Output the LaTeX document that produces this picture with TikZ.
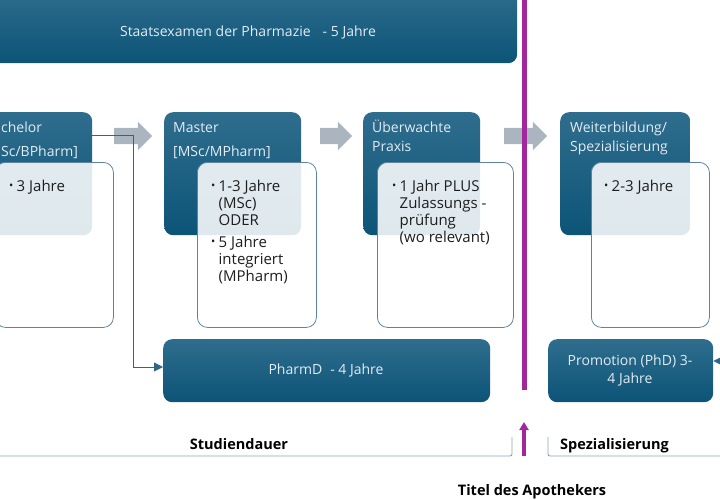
\documentclass[tikz,border=0pt]{standalone}
\usepackage{fontspec}
\usepackage{graphicx}
\setmainfont{Open Sans}
\usetikzlibrary{shapes.arrows,arrows.meta,calc}
\definecolor{boxtop}{HTML}{2F6D8D}
\definecolor{boxbot}{HTML}{0C5477}
\definecolor{boxtext}{HTML}{E2ECF3}
\definecolor{wborder}{HTML}{5C84A2}
\definecolor{agrey}{HTML}{ABB5C0}
\definecolor{purp}{HTML}{A2279C}
\definecolor{connc}{HTML}{2F6688}
\definecolor{brk}{HTML}{86A5BE}
\definecolor{txt}{HTML}{1E1E1E}
\tikzset{
  darkbox/.style={rounded corners=9pt, top color=boxtop, bottom color=boxbot, draw=none, anchor=north west, inner sep=0pt, minimum height=123pt},
  whitebox/.style={rounded corners=10pt, fill=white, fill opacity=0.87, draw=wborder, line width=0.8pt, anchor=north west, inner sep=0pt, minimum height=165pt},
  boxlbl/.style={text=boxtext, font=\fontsize{14}{16}\selectfont, inner sep=0pt, anchor=base west},
  barlbl/.style={text=boxtext, font=\fontsize{14}{18}\selectfont, inner sep=0pt, align=center},
  bullets/.style={text=txt, font=\fontsize{15}{17}\selectfont, inner sep=0pt, anchor=north west, align=left},
  garrow/.style={single arrow, fill=agrey, draw=none, minimum width=28pt, single arrow head extend=6pt, inner xsep=0pt, inner ysep=8pt},
  connline/.style={draw=connc, line width=0.8pt, -{Triangle[length=9pt,width=9pt]}},
  brkline/.style={draw=brk, line width=0.9pt, rounded corners=2pt},
  boldlbl/.style={text=black, font=\fontsize{14.5}{16}\selectfont\bfseries, inner sep=0pt},
}
\newcommand{\bul}{\makebox[7.5pt][l]{\raisebox{1.4pt}{\scalebox{0.75}{•}}}}
\newcommand{\ind}{\hspace*{7.5pt}}
\begin{document}
\begin{tikzpicture}[x=1pt,y=-1pt]
\useasboundingbox (0,0) rectangle (720,500);
\clip (0,0) rectangle (720,500);
% top bar
\node[darkbox, minimum width=537pt, minimum height=75pt] (top) at (-20,-12) {};
\node[barlbl] (toptxt) at (248,32) {Staatsexamen der Pharmazie\hspace{12pt}- 5 Jahre};
% grey arrows
\node[garrow, minimum height=38pt] (ar1) at (129,136) {};
\node[garrow, minimum height=32pt] (ar2) at (332,136) {};
\node[garrow, minimum height=43pt] (ar3) at (521.5,136) {};
% Bachelor
\node[darkbox, minimum width=137pt] (bach) at (-45,112) {};
\node[boxlbl] (bacht1) at (1,133) {chelor};
\node[boxlbl] (bacht2) at (1,157) {Sc/BPharm]};
\node[whitebox, minimum width=118pt] (bachw) at (-5,162) {};
\node[bullets] (bachb) at (9,179) {\strut\bul 3 Jahre};
% Master
\node[darkbox, minimum width=137pt] (mast) at (164,112) {};
\node[boxlbl] (mastt1) at (173,133) {Master};
\node[boxlbl] (mastt2) at (173,157) {[MSc/MPharm]};
\node[whitebox, minimum width=119pt] (mastw) at (197,162) {};
\node[bullets] (mastb) at (211,179) {\strut\bul 1-3 Jahre\\ \ind(MSc)\\ \ind ODER\\[5pt] \bul 5 Jahre\\ \ind integriert\\ \ind(MPharm)};
% Praxis
\node[darkbox, minimum width=117pt] (prax) at (363,112) {};
\node[boxlbl] (praxt1) at (372,133) {Überwachte};
\node[boxlbl] (praxt2) at (372,151) {Praxis};
\node[whitebox, minimum width=136pt] (praxw) at (377,162) {};
\node[bullets] (praxb) at (392,179) {\strut\bul 1 Jahr PLUS\\ \ind Zulassungs -\\ \ind prüfung\\ \ind(wo relevant)};
% Weiterbildung
\node[darkbox, minimum width=130pt] (weit) at (560,112) {};
\node[boxlbl] (weitt1) at (570,133) {Weiterbildung/};
\node[boxlbl] (weitt2) at (570,151) {Spezialisierung};
\node[whitebox, minimum width=118pt] (weitw) at (591,162) {};
\node[bullets] (weitb) at (604,179) {\strut\bul 2-3 Jahre};
% bottom boxes
\node[darkbox, minimum width=327pt, minimum height=63pt] (pharmd) at (163,339) {};
\node[barlbl] (pharmdt) at (326,370) {PharmD\hspace{8pt}- 4 Jahre};
\node[darkbox, minimum width=165pt, minimum height=63pt] (promo) at (548,339) {};
\node[barlbl] (promot) at (630,370) {Promotion (PhD) 3-\\4 Jahre};
% connectors
\coordinate (bend) at (133,367);
\draw[connline] ([yshift=-23pt]bach.north east) -| (bend) -- (bend -| pharmd.west);
\coordinate (pin) at (735,361);
\draw[connline] (pin) -- (pin -| promo.east);
% purple line and arrow
\coordinate (pl1) at (524,-5);
\coordinate (pl2) at (524,390);
\draw[purp, line width=5pt] (pl1) -- (pl2);
\coordinate (pa1) at (524,456);
\coordinate (pa2) at (524,422);
\draw[purp, line width=3.5pt, -{Triangle[length=8pt,width=9pt]}] (pa1) -- (pa2);
% brackets
\coordinate (b1a) at (-5,456);
\coordinate (b1b) at (512,456);
\coordinate (b1c) at (512,437);
\draw[brkline] (b1a) -- (b1b) -- (b1c);
\coordinate (b2a) at (548,437);
\coordinate (b2b) at (548,456);
\coordinate (b2c) at (725,456);
\draw[brkline] (b2a) -- (b2b) -- (b2c);
% labels
\node[boldlbl, anchor=base] (stud) at (239,449) {Studiendauer};
\node[boldlbl, anchor=base west] (spez) at (560,449) {Spezialisierung};
\node[boldlbl, anchor=base] (titel) at (532,495) {Titel des Apothekers};
\end{tikzpicture}
\end{document}
